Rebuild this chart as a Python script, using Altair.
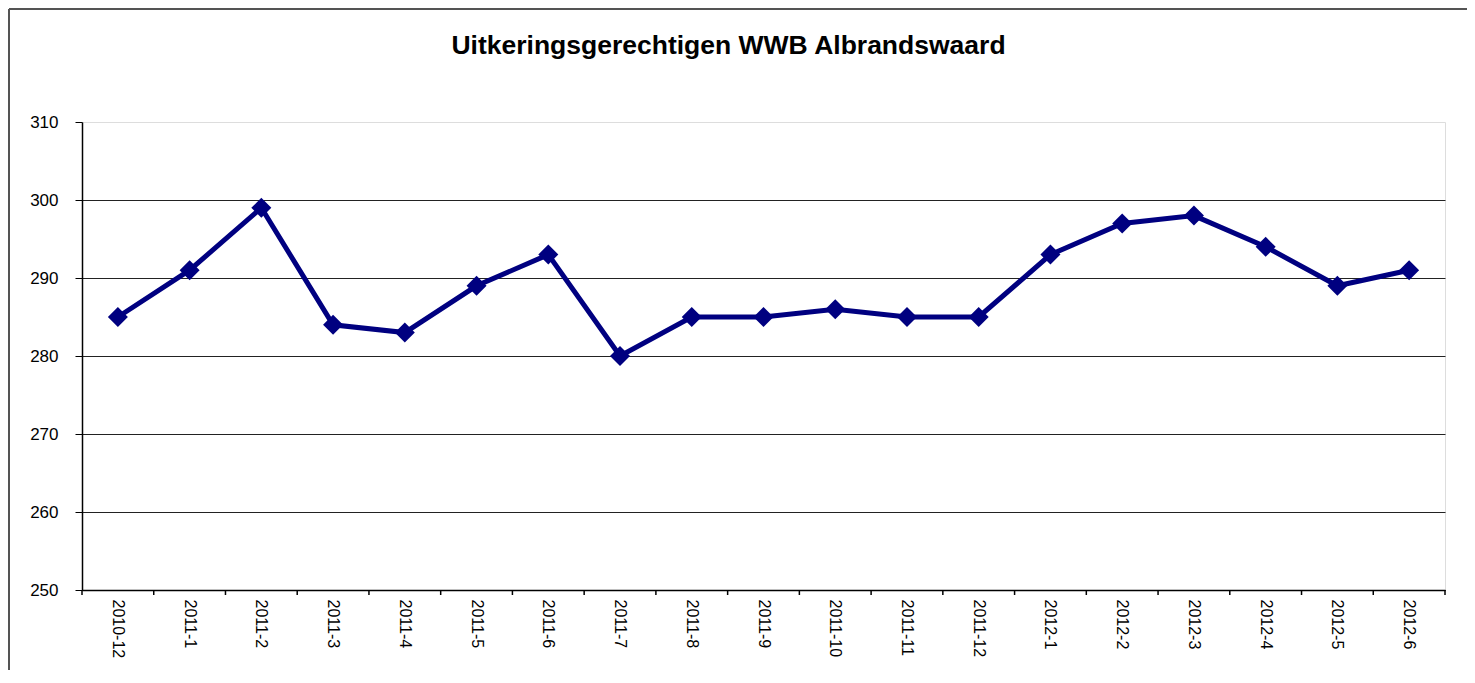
import altair as alt
import pandas as pd

categories = ["2010-12", "2011-1", "2011-2", "2011-3", "2011-4", "2011-5", "2011-6",
              "2011-7", "2011-8", "2011-9", "2011-10", "2011-11", "2011-12",
              "2012-1", "2012-2", "2012-3", "2012-4", "2012-5", "2012-6"]
values = [285, 291, 299, 284, 283, 289, 293, 280, 285, 285, 286, 285, 285,
          293, 297, 298, 294, 289, 291]
y_ticks = [250, 260, 270, 280, 290, 300, 310]
title_text = "Uitkeringsgerechtigen WWB Albrandswaard"

df = pd.DataFrame({"period": categories, "value": values})
df_last = pd.DataFrame({"period": [categories[-1]]})

W, H = 1363, 468
PL, PT, PR, PB = 74, 114, 22, 80

xscale = alt.Scale(type="band", domain=categories, paddingInner=0, paddingOuter=0)

x_enc = alt.X(
    "period:O", scale=xscale, sort=categories, bandPosition=0.5,
    axis=alt.Axis(
        title=None, labelAngle=90,
        labelFont="Liberation Sans", labelFontSize=16, labelColor="black",
        labelPadding=9, labelOverlap=False, ticks=False,
        domainColor="black", domainWidth=1.5, grid=False,
    ),
)
y_enc = alt.Y(
    "value:Q",
    scale=alt.Scale(domain=[250, 310], nice=False, zero=False),
    axis=alt.Axis(
        title=None, values=y_ticks, labelFont="Liberation Sans", labelFontSize=17,
        labelColor="black", labelPadding=17, tickSize=7, tickColor="black", tickWidth=1,
        domainColor="black", domainWidth=1.5, grid=True, gridWidth=1,
        gridColor={"condition": {"test": "datum.value === 310", "value": "transparent"}, "value": "#222222"},
    ),
)

base = alt.Chart(df)
line = base.mark_line(color="#000080", strokeWidth=5).encode(x=x_enc, y=y_enc)
pts = base.mark_point(shape="diamond", filled=True, size=400, color="#000080", opacity=1).encode(
    x=alt.X("period:O", sort=categories, bandPosition=0.5), y=alt.Y("value:Q"))

# category boundary ticks below the x axis
edge_ticks = base.mark_rule(color="black", strokeWidth=1.5).encode(
    x=alt.X("period:O", sort=categories, bandPosition=0), y=alt.value(H), y2=alt.value(H + 5))
edge_last = alt.Chart(df_last).mark_rule(color="black", strokeWidth=1.5).encode(
    x=alt.X("period:O", sort=categories, bandPosition=1), y=alt.value(H), y2=alt.value(H + 5))

frame_left = base.mark_rule(color="#555555", strokeWidth=1.5).encode(
    x=alt.value(-PL + 1), y=alt.value(-PT + 1), y2=alt.value(H + PB))
frame_top = base.mark_rule(color="#555555", strokeWidth=1.5).encode(
    x=alt.value(-PL + 1), x2=alt.value(W + PR), y=alt.value(-PT + 1))

chart = alt.layer(line, pts, edge_ticks, edge_last, frame_left, frame_top).properties(
    width=W, height=H,
    padding={"left": PL, "top": PT, "right": PR, "bottom": PB},
    autosize=alt.AutoSizeParams(type="none"),
    title=alt.TitleParams(
        title_text, font="Liberation Sans", fontSize=26.5, fontWeight="bold", color="black",
        anchor="middle", frame="group", baseline="alphabetic", offset=-72, dx=-35,
    ),
).configure_view(stroke="#8c8c8c", strokeWidth=2).configure(background="white")

chart.save("out.html", embed_options={"renderer": "svg", "actions": False})
